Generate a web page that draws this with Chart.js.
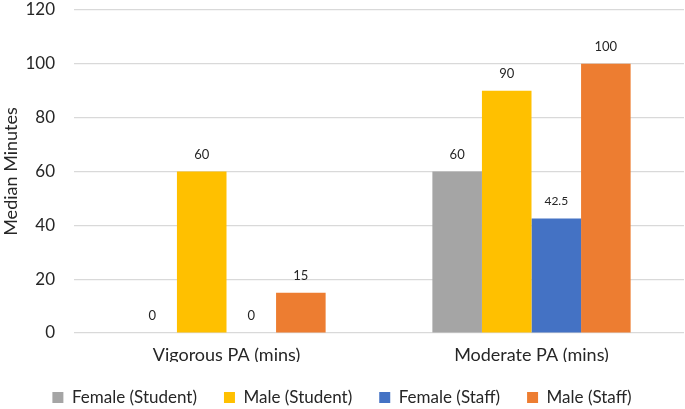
<!DOCTYPE html>
<html>
<head>
<meta charset="utf-8">
<script src="https://cdn.jsdelivr.net/npm/chart.js@4"></script>
<style>
  html, body { margin: 0; padding: 0; background: #fff; }
  #wrap { width: 685px; height: 409px; }
</style>
</head>
<body>
<div id="wrap"><canvas id="chart"></canvas></div>
<script>
const categories = ['Vigorous PA (mins)', 'Moderate PA (mins)'];
const femaleStudent = [0, 60];
const maleStudent = [60, 90];
const femaleStaff = [0, 42.5];
const maleStaff = [15, 100];
const yTicks = [0, 20, 40, 60, 80, 100, 120];

const font = "Lato, 'Open Sans', sans-serif";
const textColor = '#262626';

// values written above each bar
const barLabels = {
	id: 'barLabels',
	afterInit(chart) {
		// keep the wide gap between legend items but not the tall box
		const lg = chart.legend;
		const fit = lg.fit;
		lg.fit = function () {
			fit.call(this);
			this.height = 47;
		};
	},
	afterDatasetsDraw(chart) {
		const ctx = chart.ctx;
		ctx.save();
		ctx.fillStyle = textColor;
		ctx.textAlign = 'center';
		ctx.textBaseline = 'middle';
		chart.data.datasets.forEach((ds, i) => {
			const meta = chart.getDatasetMeta(i);
			meta.data.forEach((bar, j) => {
				const v = ds.data[j];
				ctx.font = (String(v).includes('.') ? '12px ' : '13px ') + font;
				ctx.fillText(String(v), bar.x, bar.y - 17);
			});
		});
		ctx.restore();
	},
};

const ctx = document.getElementById('chart').getContext('2d');
const myChart = new Chart(ctx, {
	type: 'bar',
	data: {
		labels: categories,
		datasets: [
			{ label: 'Female (Student)', data: femaleStudent, backgroundColor: '#A5A5A5' },
			{ label: 'Male (Student)', data: maleStudent, backgroundColor: '#FFC000' },
			{ label: 'Female (Staff)', data: femaleStaff, backgroundColor: '#4472C4' },
			{ label: 'Male (Staff)', data: maleStaff, backgroundColor: '#ED7D31' },
		],
	},
	options: {
		responsive: true,
		maintainAspectRatio: false,
		animation: false,
		categoryPercentage: 0.65,
		barPercentage: 1,
		layout: { padding: { top: 0, right: 1, left: 0, bottom: 0 } },
		plugins: {
			tooltip: { enabled: false },
			legend: {
				position: 'bottom',
				labels: {
					boxWidth: 11,
					boxHeight: 11,
					padding: 27,
					color: textColor,
					font: { family: font, size: 17 },
				},
			},
		},
		scales: {
			x: {
				grid: { display: false, drawTicks: false },
				border: { display: false },
				ticks: { color: textColor, font: { family: font, size: 18 }, padding: 11 },
				afterFit: (axis) => { axis.height = 29; },
			},
			y: {
				min: 0,
				max: 120,
				afterBuildTicks: (axis) => { axis.ticks = yTicks.map((v) => ({ value: v })); },
				afterFit: (axis) => {
					axis.width = 74;
					axis.paddingTop = 10;
					axis.paddingBottom = 10;
				},
				grid: { color: '#d9d9d9', lineWidth: 1.2, drawTicks: false },
				border: { display: false },
				ticks: { color: textColor, font: { family: font, size: 17 }, padding: 19 },
				title: {
					display: true,
					text: 'Median Minutes',
					color: textColor,
					padding: { top: 0, bottom: 6 },
					font: { family: font, size: 18 },
				},
			},
		},
	},
	plugins: [barLabels],
});
</script>
</body>
</html>
